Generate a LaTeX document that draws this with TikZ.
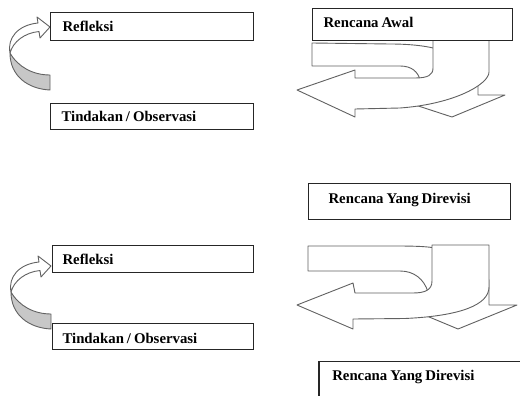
\documentclass[tikz,border=0pt]{standalone}
\usepackage{fontspec}
\setmainfont{Liberation Serif}
\newcommand\tightspacing{\spaceskip=0.2em plus 0.05em\relax}
\begin{document}
\begin{tikzpicture}[x=1pt,y=-1pt,
  box/.style={draw=black!85, line width=1.1pt, fill=white, rectangle, anchor=north west,
    inner ysep=0pt, align=left, text height=10pt, text depth=0pt,
    font=\fontsize{14.8}{17}\selectfont\bfseries,
    execute at begin node=\tightspacing},
  shp/.style={draw=black!62, line width=0.9pt, fill=white, line join=round},
  under/.style={draw=black!62, line width=0.9pt, fill=black!22, line join=round},
  curvarrow/.pic={
    \path[shp] (38,23) -- (37,17) -- (50,27) -- (40,38) -- (39,31.5)
      .. controls (24,33) and (13,42) .. (10,53)
      .. controls (7,38) and (18,25) .. (38,23) -- cycle;
    \path[under] (10,53) .. controls (18,67) and (33,75) .. (50,75) -- (50,90)
      .. controls (28,89) and (10,76) .. (10,53) -- cycle;
  }]
\useasboundingbox (0,0) rectangle (520,396);
\fill[white] (0,0) rectangle (520,396);

% left curved arrows
\pic at (0,0) {curvarrow};
\pic at (1,239) {curvarrow};

% U-turn arrow 1 (top right)
\path[shp] (312,43) -- (390,44) .. controls (410,44) and (425,46) .. (433,48)
  -- (440,48) -- (440,85) -- (425,85) -- (420,80)
  .. controls (418,72) and (412,66) .. (400,66) -- (312,66) -- cycle;
\path[shp] (478,75) -- (478,95) -- (505,95) -- (452,117) -- (400,100) -- (440,90) -- (470,70) -- cycle;
\path[shp] (433,40) -- (433,68) .. controls (433,75) and (428,78) .. (415,78) -- (355,78)
  -- (355,70) -- (297,90) -- (355,117) -- (355,109) -- (400,108)
  .. controls (455,104) and (489,84) .. (489,72) -- (489,40) -- cycle;

% U-turn arrow 2 (lower right)
\path[shp] (308,246) -- (395,246) .. controls (415,246) and (425,246.5) .. (432,247.5)
  -- (440,250) -- (440,300) -- (425,300) -- (428,292)
  .. controls (424,279) and (414,271) .. (400,271) -- (308,271) -- cycle;
\path[shp] (489,280) -- (489,305) -- (517,305) -- (458,329) -- (410,309) -- (440,300) -- (480,270) -- cycle;
\path[shp] (432,245) -- (432,281) .. controls (432,290) and (425,293) .. (413,293) -- (355,293)
  -- (353,283) -- (297,305) -- (353,329) -- (353,319) -- (405,318.5)
  .. controls (460,316) and (489,305) .. (489,287) -- (489,245) -- cycle;

% boxes
\node[box, minimum width=203pt, minimum height=28pt, text width=179pt, inner xsep=12pt] (ref1) at (50,12) {Refleksi};
\node[box, minimum width=203pt, minimum height=26pt, text width=181pt, inner xsep=11pt] (tin1) at (50,103) {Tindakan / Observasi};
\node[box, minimum width=200pt, minimum height=32pt, text width=178pt, inner xsep=11pt, text depth=4.6pt] (awal) at (312,8) {Rencana Awal};
\node[box, minimum width=202pt, minimum height=36pt, text width=162pt, inner xsep=20pt, text depth=5.4pt] (rev1) at (308,183) {Rencana Yang Direvisi};
\node[box, minimum width=201pt, minimum height=27pt, text width=181pt, inner xsep=10pt] (ref2) at (52,245) {Refleksi};
\node[box, minimum width=201pt, minimum height=26pt, text width=181pt, inner xsep=10pt, text height=14.6pt] (tin2) at (52,323) {Tindakan / Observasi};
\node[box, draw=none, fill=none, minimum width=201pt, minimum height=34.3pt, text width=175.6pt, inner xsep=12.7pt, text depth=7.7pt] (rev2) at (319,361.7) {Rencana Yang Direvisi};
\draw[black!85, line width=1.1pt] (rev2.north east) -- (rev2.north west) -- (rev2.south west);
\end{tikzpicture}
\end{document}
